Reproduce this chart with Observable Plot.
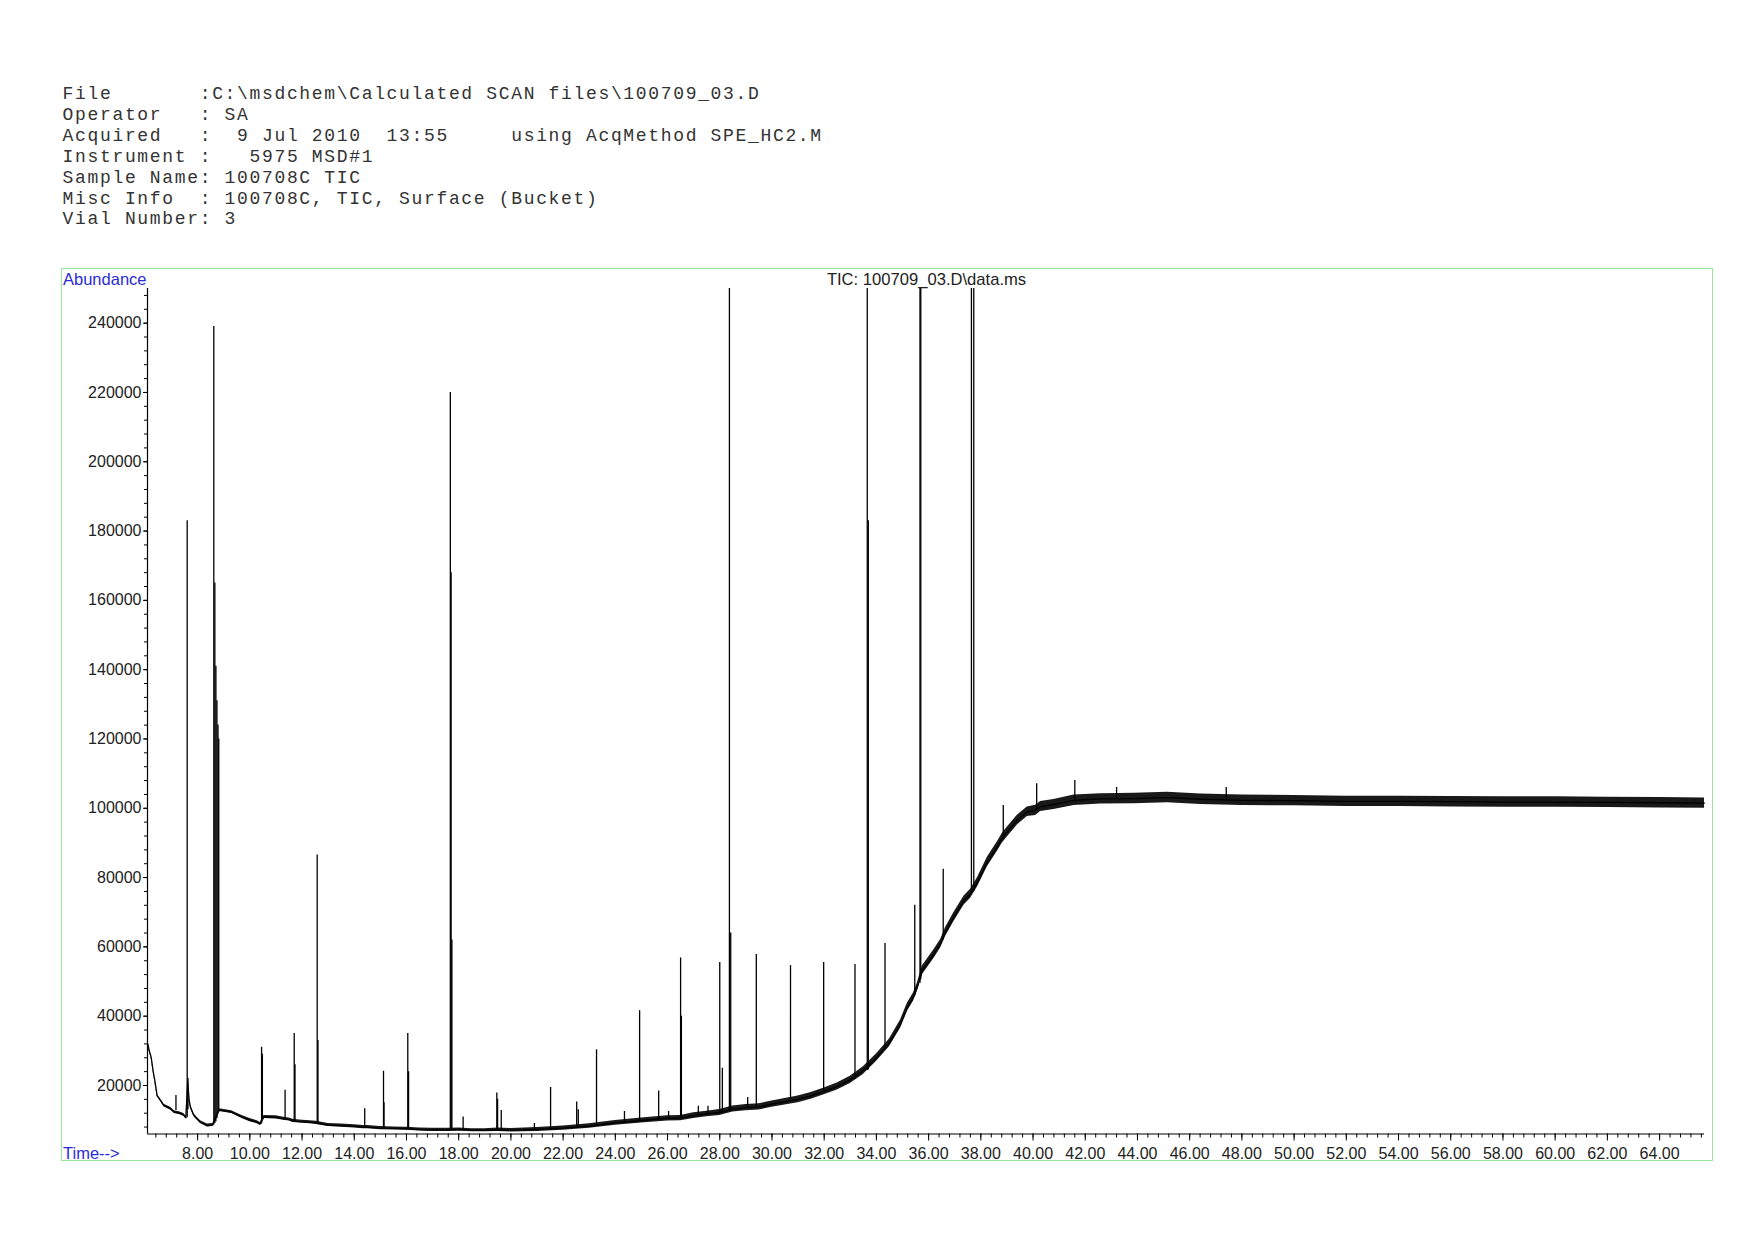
<!DOCTYPE html>
<html>
<head>
<meta charset="utf-8">
<script src="https://cdn.jsdelivr.net/npm/d3@7"></script>
<script src="https://cdn.jsdelivr.net/npm/@observablehq/plot@0.6"></script>
<style>
  html, body { margin: 0; padding: 0; background: #fff; }
  body { width: 1754px; height: 1240px; position: relative; overflow: hidden; }
  .hdr { position: absolute; left: 62.6px; top: 84px; font-family: "Liberation Mono", "Courier New", monospace;
         font-size: 18px; letter-spacing: 1.66px; line-height: 20.9px; white-space: pre; color: #333; }
  .lbl { position: absolute; font-family: "Liberation Sans", Arial, sans-serif; font-size: 16.5px; line-height: 16px; white-space: pre; }
  .blue { color: #2b2bd9; }
  #chart { position: absolute; left: 0; top: 260px; }
  .border { position: absolute; left: 61px; top: 268px; width: 1650px; height: 891px; border: 1.5px solid #98e698; }
</style>
</head>
<body>
<div class="hdr" id="hdr"></div>
<div id="chart"></div>
<div class="border"></div>
<div class="lbl blue" style="left:63px; top:270.5px;">Abundance</div>
<div class="lbl" id="title" style="left:926.5px; top:271.7px; transform:translateX(-50%); color:#222; font-size:16.6px;"></div>
<div class="lbl blue" style="left:63px; top:1144.5px;">Time--&gt;</div>
<script>
// ---- header text ----
const headerLines = [
  "File       :C:\\msdchem\\Calculated SCAN files\\100709_03.D",
  "Operator   : SA",
  "Acquired   :  9 Jul 2010  13:55     using AcqMethod SPE_HC2.M",
  "Instrument :   5975 MSD#1",
  "Sample Name: 100708C TIC",
  "Misc Info  : 100708C, TIC, Surface (Bucket)",
  "Vial Number: 3"
];
const chartTitle = "TIC: 100709_03.D\\data.ms";

// ---- baseline trace (time in min, abundance, noise half-width) ----
const baseTime = [6.09,6.15,6.22,6.30,6.35,6.45,6.58,6.71,6.96,7.11,7.30,7.47,7.55,7.62,7.68,7.73,7.85,7.92,8.11,8.37,8.58,8.82,8.90,9.30,9.70,10.00,10.28,10.40,10.54,11.00,11.30,11.50,11.65,11.90,12.30,12.55,12.70,13.00,13.50,14.00,14.35,14.50,15.00,15.50,16.00,16.50,17.00,17.60,18.00,18.50,19.00,19.50,20.00,21.00,22.00,23.00,24.00,25.00,26.00,26.50,27.00,27.50,28.00,28.50,29.00,29.50,30.00,30.50,31.00,31.50,32.00,32.50,33.00,33.50,34.00,34.50,34.93,35.19,35.42,35.57,35.76,36.21,36.46,36.65,36.97,37.36,37.61,37.87,38.25,38.63,38.82,39.02,39.40,39.78,40.10,40.29,40.80,41.57,42.59,43.87,45.15,46.42,48.00,50.00,52.00,54.00,56.00,58.00,60.00,62.00,64.00,65.72];
const baseValue = [32000,30000,28200,24000,21900,17100,15700,14200,13300,12300,12000,11500,10700,21000,15500,13700,11500,10900,9400,8450,8600,12800,12800,12300,10900,10000,9400,8900,10900,10800,10400,10200,9800,9600,9400,9200,9000,8600,8400,8200,8000,8000,7700,7600,7500,7300,7200,7200,7300,7100,7100,7200,7100,7300,7700,8300,9200,9900,10500,10600,11300,11800,12200,13200,13600,13800,14600,15300,16000,17000,18300,19700,21600,24300,28000,32300,37800,42600,45500,48400,53200,58000,60900,64300,68600,73400,75300,78600,84500,88900,91300,93200,96600,99000,99400,100500,101100,102300,102700,102800,103100,102600,102300,102200,102000,102000,101900,101800,101800,101700,101600,101500];
const baseNoise = [300,300,300,300,300,300,350,350,400,400,400,400,400,300,400,400,400,400,400,400,400,400,400,400,450,450,450,450,450,450,450,450,450,450,450,450,450,450,450,450,450,450,450,450,450,450,450,450,450,450,450,500,500,550,600,650,700,700,750,750,800,800,850,850,900,900,900,950,950,1000,1000,1000,1050,1100,1100,1150,1200,1200,1200,1200,1250,1250,1250,1300,1300,1300,1300,1350,1350,1350,1400,1400,1400,1400,1450,1450,1450,1500,1500,1500,1500,1500,1500,1500,1500,1500,1500,1500,1500,1500,1500,1500];

// ---- peaks (apex time, abundance at foot, abundance at apex) ----
const peakTime = [7.17,7.60,7.63,8.62,8.66,8.70,8.74,8.78,8.81,10.45,10.48,11.35,11.70,11.73,12.58,12.61,14.40,15.12,15.14,16.05,16.08,17.68,17.71,17.74,18.17,19.46,19.49,19.63,20.90,21.52,22.52,22.58,23.28,24.35,24.93,25.66,26.04,26.50,26.53,27.18,27.55,28.00,28.10,28.37,28.42,29.07,29.40,30.71,31.98,33.18,33.65,33.69,34.33,35.47,35.67,35.70,36.56,37.64,37.73,38.86,40.14,41.60,43.20,47.40];
const peakBase = [12800,10700,13000,8600,9000,9500,10500,12000,12800,8900,10000,10400,9800,9700,9200,9100,8000,7700,7700,7500,7500,7200,7200,7300,7300,7200,7200,7200,7200,7300,7700,7800,8200,9000,9500,10000,10500,10600,10600,11300,11800,12200,12300,12700,12800,13600,13700,15500,18200,21800,24300,24500,30500,45800,49500,50500,62000,75500,76000,91400,99600,102300,102800,102400];
const peakTop = [17100,183000,22000,239000,165000,141000,131000,124000,120000,31000,29000,18600,35000,26000,86500,33000,13300,24100,15000,35000,24000,220000,168000,62000,10900,17800,16000,12800,9000,19400,15200,13000,30300,12500,41600,18400,12500,56800,40000,14000,14000,55500,25000,300000,64000,16500,57800,54600,55500,54900,300000,183000,61000,72000,300000,300000,82400,300000,300000,100800,107100,108000,106000,106000];

// ---- axes ----
const xDomain = [6.08, 65.72];
const yDomain = [6000, 250000];
const xMajorTicks = [8,10,12,14,16,18,20,22,24,26,28,30,32,34,36,38,40,42,44,46,48,50,52,54,56,58,60,62,64];
const xMinorStep = 0.4;
const yMajorTicks = [20000,40000,60000,80000,100000,120000,140000,160000,180000,200000,220000,240000];
const yMinorStep = 4000;

document.getElementById("hdr").textContent = headerLines.join("\n");
document.getElementById("title").textContent = chartTitle;

const base = baseTime.map((t, i) => ({t, v: baseValue[i], n: baseNoise[i]}));
const peaks = peakTime.map((t, i) => ({t, b: peakBase[i], p: peakTop[i]}));
const xMinorTicks = d3.range(Math.ceil(xDomain[0] / xMinorStep), Math.floor(xDomain[1] / xMinorStep) + 1)
  .map(i => +(i * xMinorStep).toFixed(2));
const yMinorTicks = d3.range(Math.ceil(yDomain[0] / yMinorStep), Math.floor(yDomain[1] / yMinorStep) + 1)
  .map(i => i * yMinorStep);

const chart = Plot.plot({
  width: 1754,
  height: 915,
  marginTop: 28,
  marginBottom: 41.5,
  marginLeft: 147,
  marginRight: 50,
  x: {domain: xDomain, label: null},
  y: {domain: yDomain, label: null},
  style: {fontFamily: "'Liberation Sans', Arial, sans-serif", fontSize: "16px", color: "#222", background: "transparent"},
  marks: [
    Plot.areaY(base, {x: "t", y1: d => d.v - d.n, y2: d => d.v + d.n, fill: "#000", fillOpacity: 0.9}),
    Plot.line(base, {x: "t", y: "v", stroke: "#000", strokeWidth: 1.3}),
    Plot.ruleX(peaks, {x: "t", y1: "b", y2: "p", stroke: "#000", strokeWidth: 1.3, clip: true}),
    Plot.ruleX([xDomain[0]], {stroke: "#000", strokeWidth: 1.2}),
    Plot.ruleY([yDomain[0]], {stroke: "#000", strokeWidth: 1.2}),
    Plot.axisY({ticks: yMajorTicks, tickSize: 4, tickPadding: 2, tickFormat: d => String(d), label: null, stroke: "#000"}),
    Plot.axisY({ticks: yMinorTicks, tickSize: 3, tickFormat: () => "", label: null, stroke: "#000"}),
    Plot.axisX({ticks: xMajorTicks, tickSize: 7, tickPadding: 6.5, tickFormat: d => d.toFixed(2), label: null, stroke: "#000"}),
    Plot.axisX({ticks: xMinorTicks, tickSize: 4, tickFormat: () => "", label: null, stroke: "#000"})
  ]
});
document.getElementById("chart").appendChild(chart);
</script>
</body>
</html>
